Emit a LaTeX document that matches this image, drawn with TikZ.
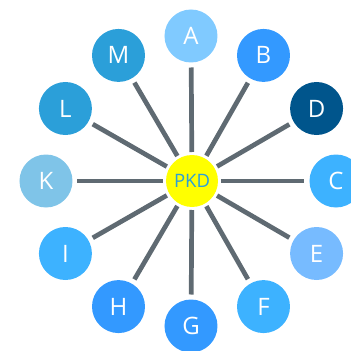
\documentclass[tikz,border=0pt]{standalone}
\usepackage{fontspec}
\setmainfont{Open Sans}
\usetikzlibrary{positioning}
\definecolor{hubyellow}{HTML}{FFFF00}
\definecolor{hubtext}{HTML}{2B9FD9}
\definecolor{spokegray}{HTML}{5F6A72}
\definecolor{paleblue}{HTML}{80CAFF}
\definecolor{skyblue}{HTML}{3DB2FF}
\definecolor{brightblue}{HTML}{3399FF}
\definecolor{ceruleanblue}{HTML}{2B9FD9}
\definecolor{navyblue}{HTML}{00558C}
\definecolor{softblue}{HTML}{77BBFF}
\definecolor{greyblue}{HTML}{7FC4E8}
\tikzstyle{hub} = [circle,fill=hubyellow,text=hubtext,inner sep=0,outer sep=0,minimum size=52pt,font=\fontsize{18.5}{18.5}\selectfont]
\tikzstyle{leaf} = [circle,text=white,inner sep=0,outer sep=0,minimum size=53pt,font=\fontsize{24}{24}\selectfont]
\tikzstyle{spoke} = [-,line width=4.7pt,spokegray,shorten <=3pt,shorten >=5pt]
\def \rr {145pt}

\begin{document}
\begin{tikzpicture}
      \useasboundingbox (-191pt,-170pt) rectangle (160pt,181pt);
      \node[hub] (pkd) at (1pt,0) {PKD};
      \node[leaf,fill=paleblue] (a) at (90:\rr) {A};
      \node[leaf,fill=brightblue] (b) at (60:\rr) {B};
      \node[leaf,fill=navyblue] (d) at (30:\rr) {D};
      \node[leaf,fill=skyblue] (c) at (0:\rr) {C};
      \node[leaf,fill=softblue] (e) at (-30:\rr) {E};
      \node[leaf,fill=skyblue] (f) at (-60:\rr) {F};
      \node[leaf,fill=brightblue] (g) at (-90:\rr) {G};
      \node[leaf,fill=brightblue] (h) at (-120:\rr) {H};
      \node[leaf,fill=skyblue] (i) at (-150:\rr) {I};
      \node[leaf,fill=greyblue] (k) at (180:\rr) {K};
      \node[leaf,fill=ceruleanblue] (l) at (150:\rr) {L};
      \node[leaf,fill=ceruleanblue] (m) at (120:\rr) {M};
      \draw[spoke] (pkd) -- (a);
      \draw[spoke] (pkd) -- (b);
      \draw[spoke] (pkd) -- (d);
      \draw[spoke] (pkd) -- (c);
      \draw[spoke] (pkd) -- (e);
      \draw[spoke] (pkd) -- (f);
      \draw[spoke] (pkd) -- (g);
      \draw[spoke] (pkd) -- (h);
      \draw[spoke] (pkd) -- (i);
      \draw[spoke] (pkd) -- (k);
      \draw[spoke] (pkd) -- (l);
      \draw[spoke] (pkd) -- (m);
    \end{tikzpicture}
\end{document}
